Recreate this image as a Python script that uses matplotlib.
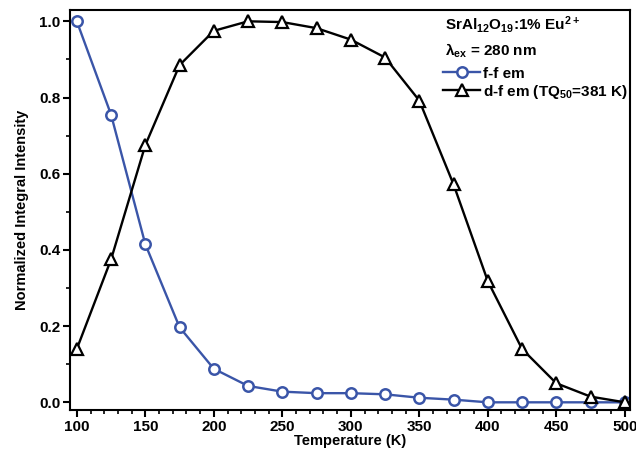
import matplotlib
matplotlib.use('Agg')
import matplotlib.pyplot as plt
from matplotlib.ticker import MultipleLocator

temps = [100, 125, 150, 175, 200, 225, 250, 275, 300, 325, 350, 375, 400, 425, 450, 475, 500]
ff_em = [1.0, 0.755, 0.415, 0.197, 0.088, 0.043, 0.028, 0.024, 0.024, 0.021, 0.012, 0.007,
         0.0, 0.0, 0.0, 0.0, 0.0]
df_em = [0.14, 0.375, 0.675, 0.885, 0.975, 1.0, 0.998, 0.982, 0.952, 0.905, 0.792, 0.572,
         0.318, 0.14, 0.05, 0.015, 0.0]

plt.rcParams['font.family'] = ['Liberation Sans', 'DejaVu Sans']
plt.rcParams['font.weight'] = 'bold'
plt.rcParams['mathtext.fontset'] = 'custom'
plt.rcParams['mathtext.rm'] = 'Liberation Sans:bold'
plt.rcParams['mathtext.bf'] = 'Liberation Sans:bold'
plt.rcParams['mathtext.default'] = 'bf'

fig = plt.figure(figsize=(6.36, 4.49), dpi=100)
ax = fig.add_axes([0.110, 0.087, 0.881, 0.891])

ax.plot(temps, ff_em, color='#3a55a8', lw=1.7, marker='o', ms=7.5, mfc='white',
        mec='#3a55a8', mew=1.8, label='f-f em')
ax.plot(temps, df_em, color='black', lw=1.7, marker='^', ms=8.5, mfc='white',
        mec='black', mew=1.6, label='d-f em (TQ$_{50}$=381 K)')

ax.set_xlim(95, 504)
ax.set_ylim(-0.02, 1.03)
ax.xaxis.set_major_locator(MultipleLocator(50))
ax.xaxis.set_minor_locator(MultipleLocator(10))
ax.yaxis.set_major_locator(MultipleLocator(0.2))
ax.yaxis.set_minor_locator(MultipleLocator(0.1))
ax.yaxis.set_major_formatter(plt.FormatStrFormatter('%.1f'))
ax.tick_params(which='major', direction='out', length=5, width=1.5, labelsize=11, pad=2)
ax.tick_params(which='minor', direction='out', length=3, width=1.2)
for s in ax.spines.values():
    s.set_linewidth(1.5)

ax.set_xlabel('Temperature (K)', fontsize=10.5, fontweight='bold', labelpad=0)
ax.set_ylabel('Normalized Integral Intensity', fontsize=10.5, fontweight='bold', labelpad=7)

ax.text(0.670, 0.9625, 'SrAl$_{12}$O$_{19}$:1% Eu$^{2+}$', transform=ax.transAxes,
        fontsize=11, fontweight='bold', va='center')
ax.text(0.670, 0.897, 'λ$_{ex}$ = 280 nm', transform=ax.transAxes,
        fontsize=11, fontweight='bold', va='center')
ax.legend(loc='upper left', bbox_to_anchor=(0.661, 0.866), frameon=False, fontsize=11,
          handlelength=2.4, handletextpad=0.2, borderpad=0.2, borderaxespad=0,
          labelspacing=0.15)

fig.savefig('out.png', dpi=100)
